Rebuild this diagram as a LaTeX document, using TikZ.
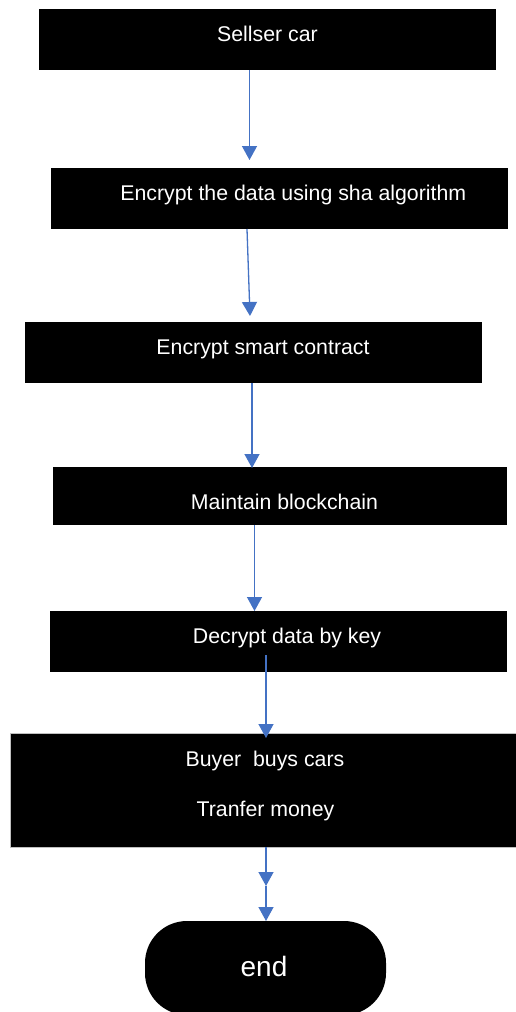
\documentclass[tikz,border=0pt]{standalone}
\usepackage{fontspec}
\setmainfont{Liberation Sans}
\usetikzlibrary{arrows.meta}
\definecolor{arrowblue}{HTML}{4472C4}
\begin{document}
\begin{tikzpicture}[x=1pt,y=-1pt,
  boxshape/.style={fill=black, draw=none, inner sep=0pt, outer sep=0pt, rectangle},
  boxtext/.style={text=white, anchor=base, inner sep=0pt, font=\fontsize{21.3}{25}\selectfont},
  endtext/.style={text=white, anchor=base, inner sep=0pt, font=\fontsize{28}{32}\selectfont},
  flow/.style={draw=arrowblue, line width=1.3pt, -{Triangle[width=15pt,length=14pt]}}]
\useasboundingbox (0,0) rectangle (515,1012);
\path[fill=white] (0,0) rectangle (515,1012);
% boxes
\node[boxshape, minimum width=457pt, minimum height=61pt] (b1) at (267.5,39.5) {};
\node[boxshape, minimum width=457pt, minimum height=61pt] (b2) at (279.5,198.5) {};
\node[boxshape, minimum width=457pt, minimum height=61pt] (b3) at (253.5,352.5) {};
\node[boxshape, minimum width=454pt, minimum height=58pt] (b4) at (280,496) {};
\node[boxshape, minimum width=457pt, minimum height=61pt] (b5) at (278.5,641.5) {};
\node[boxshape, draw=gray!50, line width=0.6pt, minimum width=506pt, minimum height=114pt] (b6) at (263,790) {};
\node[boxshape, rounded corners=42pt, minimum width=241pt, minimum height=94pt] (bend) at (265.5,968) {};
% texts
\node[boxtext] (t1) at (267.5,41) {Sellser car};
\node[boxtext] (t2) at (293.3,200) {Encrypt the data using sha algorithm};
\node[boxtext] (t3) at (263,354) {Encrypt smart contract};
\node[boxtext] (t4) at (284.5,509) {Maintain blockchain};
\node[boxtext] (t5) at (287,643) {Decrypt data by key};
\node[boxtext] (t6a) at (265,766) {Buyer\ \ buys cars};
\node[boxtext] (t6b) at (265.5,816) {Tranfer money};
\node[endtext] (tend) at (264,976) {end};
% connector points
\coordinate (e1) at (249.5,160);
\coordinate (s2) at (247,229);
\coordinate (e2) at (250,316);
\coordinate (e3) at (252,468);
\coordinate (e4) at (254.5,611);
\coordinate (s5) at (266,655);
\coordinate (e5) at (266,738);
\coordinate (m6) at (266,886);
% connectors
\draw[flow] (b1.south -| e1) -- (e1);
\draw[flow] (b2.south -| s2) -- (e2);
\draw[flow] (b3.south -| e3) -- (e3);
\draw[flow] (b4.south -| e4) -- (e4);
\draw[flow] (s5) -- (e5);
\draw[flow] (b6.south -| m6) -- (m6);
\draw[flow] (m6) -- (bend.north -| m6);
\end{tikzpicture}
\end{document}
